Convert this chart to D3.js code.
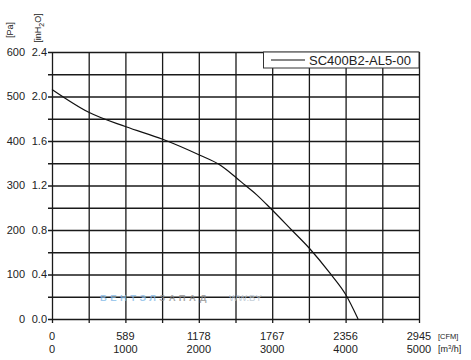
<!DOCTYPE html>
<html>
<head>
<meta charset="utf-8">
<script src="https://cdn.jsdelivr.net/npm/d3@7"></script>
<style>
  body { margin: 0; background: #fff; }
  text { font-family: "Liberation Sans", Arial, sans-serif; }
</style>
</head>
<body>
<div id="chart"></div>
<script>
// airflow in m3/h, static pressure in Pa
const flowM3h = [0, 508, 1008, 1508, 2016, 2289, 2507, 2629, 2789, 2993, 3265, 3506, 3787, 4005, 4170];
const pressurePa = [516, 464, 432, 404, 368, 346, 318, 301, 279, 246, 200, 159, 103, 54, 0];

const m3hTicks = [0, 1000, 2000, 3000, 4000, 5000];
const cfmLabels = ["0", "589", "1178", "1767", "2356", "2945"];
const paTicks = [0, 100, 200, 300, 400, 500, 600];
const inH2OLabels = ["0.0", "0.4", "0.8", "1.2", "1.6", "2.0", "2.4"];
const seriesName = "SC400B2-AL5-00";

const width = 471, height = 360;
const plotLeft = 52, plotRight = 419, plotTop = 52, plotBottom = 319;

const svg = d3.select("#chart").append("svg")
    .attr("width", width)
    .attr("height", height);

const x = d3.scaleLinear().domain([0, 5000]).range([plotLeft, plotRight]);
const y = d3.scaleLinear().domain([0, 600]).range([plotBottom, plotTop]);

const gridColor = "#1a1a1a";

// vertical grid (every 500 m3/h), ticks sticking out below
svg.append("g")
    .attr("transform", `translate(0,${plotBottom + 4})`)
    .call(d3.axisBottom(x).tickValues(d3.range(0, 5001, 500)).tickSize(-(plotBottom + 4 - plotTop)).tickFormat(""))
    .call(g => g.select(".domain").remove())
    .call(g => g.selectAll("line").attr("stroke", gridColor).attr("stroke-width", 1.3));

// horizontal grid (every 50 Pa), ticks sticking out left
svg.append("g")
    .attr("transform", `translate(${plotLeft - 4},0)`)
    .call(d3.axisLeft(y).tickValues(d3.range(0, 601, 50)).tickSize(-(plotRight - plotLeft + 4)).tickFormat(""))
    .call(g => g.select(".domain").remove())
    .call(g => g.selectAll("line").attr("stroke", gridColor).attr("stroke-width", 1.3));

// y labels
svg.append("g").selectAll("text")
    .data(paTicks)
    .join("text")
    .attr("x", 25)
    .attr("y", d => y(d))
    .attr("dy", "0.35em")
    .attr("text-anchor", "end")
    .attr("font-size", 11)
    .attr("fill", "#222")
    .text(d => d);

svg.append("g").selectAll("text")
    .data(paTicks)
    .join("text")
    .attr("x", 47)
    .attr("y", d => y(d))
    .attr("dy", "0.35em")
    .attr("text-anchor", "end")
    .attr("font-size", 11)
    .attr("fill", "#222")
    .text((d, i) => inH2OLabels[i]);

// y unit labels (rotated)
svg.append("text")
    .attr("transform", "translate(13,30) rotate(-90)")
    .attr("text-anchor", "middle")
    .attr("font-size", 9)
    .attr("fill", "#222")
    .text("[Pa]");

const inh = svg.append("text")
    .attr("transform", "translate(41,28) rotate(-90)")
    .attr("text-anchor", "middle")
    .attr("font-size", 9)
    .attr("fill", "#222");
inh.append("tspan").text("[inH");
inh.append("tspan").attr("font-size", 7).attr("dy", 3).text("2");
inh.append("tspan").attr("dy", -3).text("O]");

// x labels: CFM row and m3/h row
svg.append("g").selectAll("text")
    .data(m3hTicks)
    .join("text")
    .attr("x", d => x(d))
    .attr("y", 339.5)
    .attr("text-anchor", "middle")
    .attr("font-size", 11)
    .attr("fill", "#222")
    .text((d, i) => cfmLabels[i]);

svg.append("g").selectAll("text")
    .data(m3hTicks)
    .join("text")
    .attr("x", d => x(d))
    .attr("y", 352.5)
    .attr("text-anchor", "middle")
    .attr("font-size", 11)
    .attr("fill", "#222")
    .text(d => d);

svg.append("text")
    .attr("x", 438).attr("y", 338.5)
    .attr("font-size", 7.5)
    .attr("fill", "#222")
    .text("[CFM]");

const m3 = svg.append("text")
    .attr("x", 438).attr("y", 352)
    .attr("font-size", 9)
    .attr("fill", "#222");
m3.append("tspan").text("[m");
m3.append("tspan").attr("font-size", 6).attr("dy", -3).text("3");
m3.append("tspan").attr("dy", 3).text("/h]");

// watermark
const wm = svg.append("text")
    .attr("x", 100).attr("y", 300.5)
    .attr("font-size", 9.5)
    .attr("font-weight", "bold")
    .attr("letter-spacing", 3.4)
    .attr("opacity", 0.75);
wm.append("tspan").attr("fill", "#7fb8e6").text("ВЕНТЭЛ");
wm.append("tspan").attr("fill", "#8a8a8a").text("ЗАПАД");
svg.append("text")
    .attr("x", 229).attr("y", 300.5)
    .attr("font-size", 9.5)
    .attr("fill", "#b8c4d0")
    .attr("opacity", 0.8)
    .text("WW.BY");

// curve
const line = d3.line()
    .x((d, i) => x(flowM3h[i]))
    .y(d => y(d))
    .curve(d3.curveMonotoneX);

svg.append("path")
    .datum(pressurePa)
    .attr("fill", "none")
    .attr("stroke", "#111")
    .attr("stroke-width", 1.2)
    .attr("d", line);

// legend
const lg = svg.append("g");
lg.append("rect")
    .attr("x", 263.5).attr("y", plotTop)
    .attr("width", plotRight - 263.5).attr("height", 16)
    .attr("fill", "#fff")
    .attr("stroke", "#333")
    .attr("stroke-width", 1);
lg.append("line")
    .attr("x1", 271).attr("x2", 305)
    .attr("y1", plotTop + 8).attr("y2", plotTop + 8)
    .attr("stroke", "#111").attr("stroke-width", 1.2);
lg.append("text")
    .attr("x", 309).attr("y", plotTop + 8)
    .attr("dy", "0.36em")
    .attr("font-size", 13)
    .attr("fill", "#222")
    .text(seriesName);
</script>
</body>
</html>
